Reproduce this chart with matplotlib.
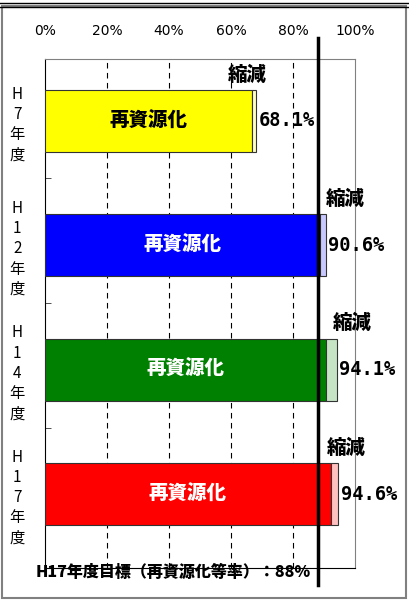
import numpy as np
import matplotlib
matplotlib.use('Agg')
from matplotlib import pyplot as plt
from matplotlib.patches import Rectangle

plt.rcParams['font.family'] = ['Noto Sans CJK JP', 'DejaVu Sans']

# data
years = ['H\n7\n年\n度', 'H\n1\n2\n年\n度', 'H\n1\n4\n年\n度', 'H\n1\n7\n年\n度']
recycled = [66.8, 88.7, 90.6, 92.2]      # 再資源化
reduced = [1.3, 1.9, 3.5, 2.4]           # 縮減
totals = ['68.1%', '90.6%', '94.1%', '94.6%']
target = 88
main_colors = ['#ffff00', '#0000ff', '#008000', '#ff0000']
light_colors = ['#ffffc0', '#c8c8ff', '#c4e4c4', '#ffc0c0']
text_colors = ['black', 'white', 'white', 'white']
# hand placed "縮減" labels (offset from bar end, % units)
cut_dx = [-9, 0, -1.2, -3.6]

fig = plt.figure(figsize=(4.1, 6.0), dpi=100)
ax = fig.add_axes([45/410, 1-568/600, 310/410, 509/600])

y = np.arange(len(years))
ax.barh(y, recycled, height=0.5, color=main_colors, edgecolor='#333333', linewidth=0.8, zorder=3)
ax.barh(y, reduced, left=recycled, height=0.5, color=light_colors, edgecolor='#333333', linewidth=0.8, zorder=3)

for i in range(len(years)):
	end = recycled[i] + reduced[i]
	ax.text(recycled[i]/2, y[i], '再資源化', ha='center', va='center', fontsize=14,
			fontweight='heavy', color=text_colors[i], zorder=4)
	ax.text(end + 0.8, y[i], totals[i], ha='left', va='center', fontsize=13.5,
			fontweight='bold', family='DejaVu Sans Mono', zorder=4)
	ax.text(end + cut_dx[i], y[i] - 0.37, '縮減', ha='left', va='center', fontsize=14,
			fontweight='heavy', zorder=4)

ax.set_xlim(0, 100)
ax.set_ylim(3.594, -0.498)
ax.set_xticks([0, 20, 40, 60, 80, 100])
ax.set_xticklabels(['0%', '20%', '40%', '60%', '80%', '100%'], fontsize=10, family='DejaVu Sans')
ax.xaxis.tick_top()
ax.tick_params(axis='x', length=0, pad=15)

ax.set_yticks(y)
ax.set_yticklabels(years, fontsize=11, linespacing=1.25)
ax.tick_params(axis='y', length=0, pad=20)
for lbl in ax.get_yticklabels():
	lbl.set_horizontalalignment('center')
ax.set_yticks([0.46, 1.46, 2.47], minor=True)
ax.tick_params(axis='y', which='minor', length=4, direction='in', color='#333333')

for xv in [20, 40, 60, 80]:
	ax.axvline(xv, color='black', linestyle=(0, (5, 4)), linewidth=0.8, zorder=1)

ax.spines['left'].set_color('black')
ax.spines['bottom'].set_color('black')
ax.spines['top'].set_color('#808080')
ax.spines['right'].set_color('#808080')

ax.axvline(target, ymin=-0.033, ymax=1.041, color='black', linewidth=2.5, clip_on=False, zorder=5)

fig.text(36/410, 1-572/600, 'H17年度目標（再資源化等率）：88%', ha='left', va='center',
		 fontsize=11.5, fontweight='heavy')

# outer frame
fig.patches.append(Rectangle((2/410, 2/600), 404/410, 592/600, transform=fig.transFigure,
							 fill=False, edgecolor='#808080', linewidth=1.5))
fig.lines.append(plt.Line2D([0, 1], [1-3/600, 1-3/600], transform=fig.transFigure, color='black', linewidth=1))
fig.lines.append(plt.Line2D([0, 1], [1-7/600, 1-7/600], transform=fig.transFigure, color='black', linewidth=1))

fig.savefig('out.png', dpi=100)
